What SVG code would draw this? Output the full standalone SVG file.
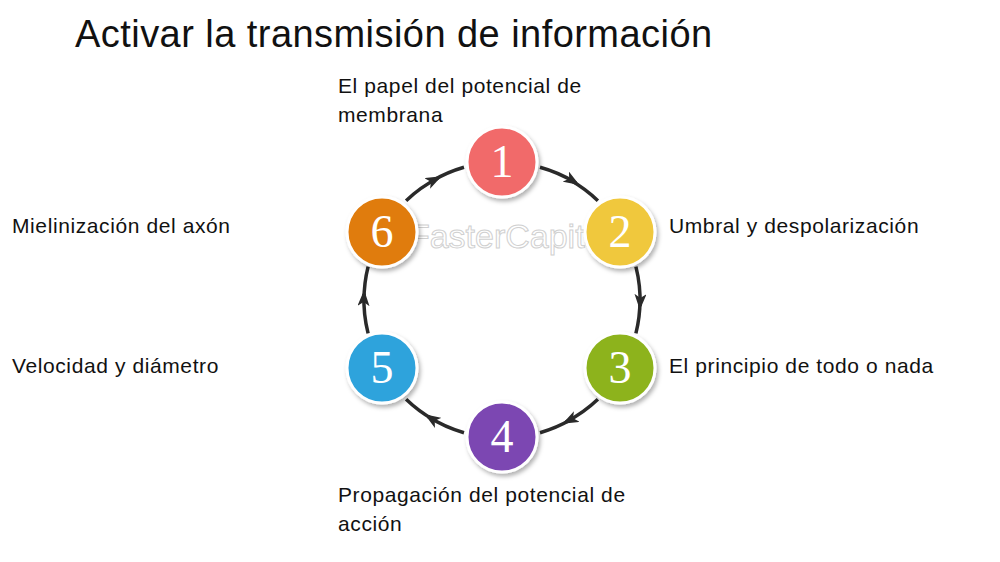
<svg xmlns="http://www.w3.org/2000/svg" width="1000" height="562" viewBox="0 0 1000 562">
<style>
.t{font-family:"Liberation Sans",Arial,sans-serif;fill:#111}
.lbl{font-size:21px;letter-spacing:0.6px}
.n{font-family:"Liberation Serif","Times New Roman",serif;font-size:46px;fill:#fff;text-anchor:middle}
.c{stroke:#fff;stroke-width:3}
.arc{fill:none;stroke:#2a2a2a;stroke-width:3.5}
</style>
<defs>
<marker id="ah" markerWidth="16" markerHeight="12" refX="12" refY="6" orient="auto" markerUnits="userSpaceOnUse"><path d="M0,0 L16,6 L0,12 L4,6 Z" fill="#2a2a2a"/></marker>
<filter id="sh" x="-20%" y="-20%" width="150%" height="150%"><feDropShadow dx="2" dy="3" stdDeviation="2" flood-opacity="0.3"/></filter>
</defs>
<rect width="1000" height="562" fill="#fff"/>
<text class="t" x="75" y="47" font-size="38" letter-spacing="0.45">Activar la transmisión de información</text>
<g id="connectors">
<path class="arc" d="M540,167.3 A138,138 0 0 1 576,183" marker-end="url(#ah)"/><path class="arc" d="M571,180.5 A138,138 0 0 1 597.9,200.7"/>
<path class="arc" d="M635.9,266.6 A138,138 0 0 1 640,306" marker-end="url(#ah)"/><path class="arc" d="M640,300 A138,138 0 0 1 635.9,333.4"/>
<path class="arc" d="M597.9,399.3 A138,138 0 0 1 566,422" marker-end="url(#ah)"/><path class="arc" d="M571,419.5 A138,138 0 0 1 540,432.7"/>
<path class="arc" d="M464,432.7 A138,138 0 0 1 428,416.5" marker-end="url(#ah)"/><path class="arc" d="M433,419.5 A138,138 0 0 1 406.1,399.3"/>
<path class="arc" d="M368.1,333.4 A138,138 0 0 1 364,294" marker-end="url(#ah)"/><path class="arc" d="M364,300 A138,138 0 0 1 368.1,266.6"/>
<path class="arc" d="M406.1,200.7 A138,138 0 0 1 438,178" marker-end="url(#ah)"/><path class="arc" d="M433,180.5 A138,138 0 0 1 464,167.3"/>
</g>
<text x="510" y="248" font-family="Liberation Sans,sans-serif" font-size="34" fill="none" stroke="#d0d0d0" stroke-width="1" text-anchor="middle">FasterCapital</text>
<g id="n1"><circle class="c" cx="502" cy="162" r="35" fill="#f16b6b" filter="url(#sh)"/><text class="n" x="502" y="177">1</text>
<text class="t lbl" x="338" y="93">El papel del potencial de</text><text class="t lbl" x="338" y="122">membrana</text></g>
<g id="n2"><circle class="c" cx="620" cy="232" r="35" fill="#f0c83c" filter="url(#sh)"/><text class="n" x="620" y="247">2</text>
<text class="t lbl" x="669" y="233">Umbral y despolarización</text></g>
<g id="n3"><circle class="c" cx="620" cy="368" r="35" fill="#8db31f" filter="url(#sh)"/><text class="n" x="620" y="383">3</text>
<text class="t lbl" x="669" y="373">El principio de todo o nada</text></g>
<g id="n4"><circle class="c" cx="502" cy="437" r="35" fill="#7b46b2" filter="url(#sh)"/><text class="n" x="502" y="452">4</text>
<text class="t lbl" x="338" y="502">Propagación del potencial de</text><text class="t lbl" x="338" y="531">acción</text></g>
<g id="n5"><circle class="c" cx="382" cy="368" r="35" fill="#2ea3dc" filter="url(#sh)"/><text class="n" x="382" y="383">5</text>
<text class="t lbl" x="12" y="373">Velocidad y diámetro</text></g>
<g id="n6"><circle class="c" cx="382" cy="232" r="35" fill="#e07c0c" filter="url(#sh)"/><text class="n" x="382" y="247">6</text>
<text class="t lbl" x="12" y="233">Mielinización del axón</text></g>
</svg>
